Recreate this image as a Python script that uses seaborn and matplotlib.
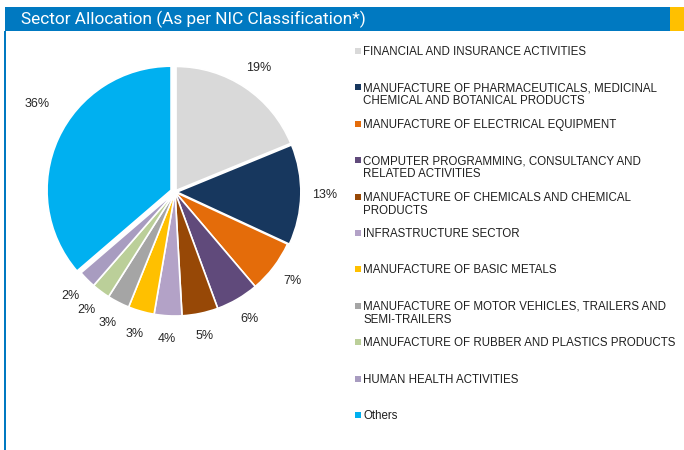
import matplotlib
matplotlib.use("Agg")
import matplotlib.pyplot as plt
import seaborn as sns
from matplotlib.patches import Rectangle

sectors = [
    "FINANCIAL AND INSURANCE ACTIVITIES",
    "MANUFACTURE OF PHARMACEUTICALS, MEDICINAL\nCHEMICAL AND BOTANICAL PRODUCTS",
    "MANUFACTURE OF ELECTRICAL EQUIPMENT",
    "COMPUTER PROGRAMMING, CONSULTANCY AND\nRELATED ACTIVITIES",
    "MANUFACTURE OF CHEMICALS AND CHEMICAL\nPRODUCTS",
    "INFRASTRUCTURE SECTOR",
    "MANUFACTURE OF BASIC METALS",
    "MANUFACTURE OF MOTOR VEHICLES, TRAILERS AND\nSEMI-TRAILERS",
    "MANUFACTURE OF RUBBER AND PLASTICS PRODUCTS",
    "HUMAN HEALTH ACTIVITIES",
    "Others",
]
weights = [18.8, 13.1, 6.9, 5.6, 4.7, 3.6, 3.4, 2.9, 2.4, 2.3, 36.3]
colors = ["#D9D9D9", "#17375E", "#E46C0A", "#604A7B", "#974806", "#B3A2C7",
          "#FFC000", "#A5A5A5", "#BBCF99", "#A89CC0", "#00B0F0"]
explode = [0.015, 0.015, 0, 0, 0, 0, 0, 0, 0, 0, 0.035]

sns.set_theme(style="white")
plt.rcParams["font.family"] = ["Liberation Sans", "DejaVu Sans"]

W, H = 684, 450
fig = plt.figure(figsize=(W / 100, H / 100), dpi=100)


def fx(px):
    return px / W


def fy(py):
    return 1 - py / H


# header bar, yellow tab, left border
fig.add_artist(Rectangle((fx(5), fy(31)), fx(665), 24 / H, color="#0079C1", lw=0))
fig.add_artist(Rectangle((fx(670), fy(31)), fx(14), 24 / H, color="#FFC000", lw=0))
fig.add_artist(Rectangle((fx(4), 0), fx(2), fy(31), color="#0079C1", lw=0))
fig.text(fx(21), fy(19), "Sector Allocation (As per NIC Classification*)",
         color="white", fontsize=12.4, va="center", ha="left", family="Roboto")

# pie
ax = fig.add_axes([fx(20), fy(347), fx(310), 310 / H])
wedges, texts, autotexts = ax.pie(
    weights, colors=colors, explode=explode, startangle=90, counterclock=False,
    autopct=lambda p: f"{p:.0f}%", pctdistance=1.19,
    wedgeprops=dict(edgecolor="white", linewidth=1.2),
    textprops=dict(fontsize=9, color="#262626"),
)
# the big slice's label sits higher in the original
x0, y0 = autotexts[-1].get_position()
autotexts[-1].set_position((x0, y0 + 0.2))
ax.set_xlim(-1.25, 1.25)
ax.set_ylim(-1.25, 1.25)
ax.set_aspect("equal")
ax.axis("off")

# legend on the right, one slot per sector
for i, (name, col) in enumerate(zip(sectors, colors)):
    yc = 51 + 36.4 * i
    fig.add_artist(Rectangle((fx(355), fy(yc + 3)), fx(6), 6 / H, color=col, lw=0))
    for j, line in enumerate(name.split("\n")):
        fig.text(fx(363), fy(yc + 4 + 13 * j), line, fontsize=8.3, color="#1f1f1f",
                 va="baseline", ha="left")

fig.savefig("out.png", dpi=100, facecolor="white")
